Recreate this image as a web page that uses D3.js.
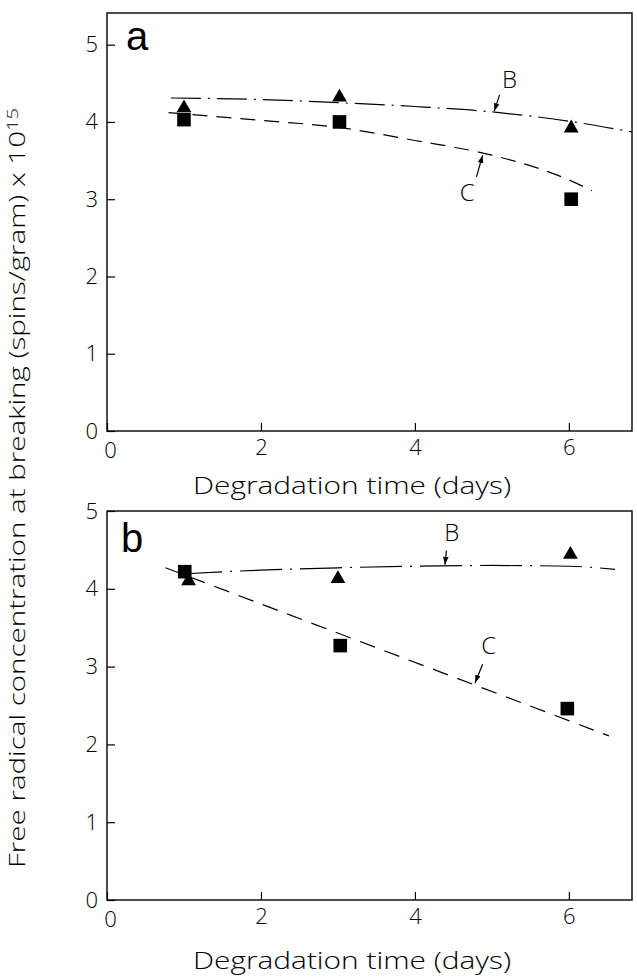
<!DOCTYPE html>
<html><head><meta charset="utf-8">
<script src="https://cdnjs.cloudflare.com/ajax/libs/d3/7.8.5/d3.min.js"></script>
<style>
body{margin:0;background:#fff;}
text{font-family:"Open Sans","DejaVu Sans",sans-serif;font-weight:300;fill:#000;}
</style>
</head><body>
<svg id="c" width="637" height="978"></svg>
<script>
// ---------- data ----------
const xTicks = [0, 2, 4, 6];
const yTicks = [0, 1, 2, 3, 4, 5];
const xTitle = "Degradation time (days)";
const yTitleMain = "Free radical concentration at breaking (spins/gram) x 10";
const yTitleSup = "15";

// panel a
const aTriX = [1, 3.02, 6.03];
const aTriY = [4.18, 4.32, 3.92];
const aSqX = [1, 3.02, 6.03];
const aSqY = [4.03, 4.0, 3.0];
const aCurveBX = [0.83, 2, 3, 4, 5, 6, 6.82];
const aCurveBY = [4.31, 4.29, 4.25, 4.2, 4.13, 4.01, 3.87];
const aCurveCX = [0.8, 2, 3, 4, 5, 6, 6.3];
const aCurveCY = [4.12, 4.02, 3.93, 3.76, 3.57, 3.25, 3.11];
// annotations: [labelX, labelY, tailX, tailY, tipX, tipY]
const aLabelB = [5.23, 4.55, 5.1, 4.35, 5.03, 4.14];
const aLabelC = [4.68, 3.09, 4.8, 3.29, 4.88, 3.57];

// panel b
const bTriX = [1.06, 3.0, 6.02];
const bTriY = [4.1, 4.13, 4.44];
const bSqX = [1.01, 3.03, 5.98];
const bSqY = [4.22, 3.27, 2.46];
const bCurveBX = [0.95, 2, 3, 4, 5, 6, 6.6];
const bCurveBY = [4.19, 4.24, 4.27, 4.29, 4.3, 4.29, 4.25];
const bCurveCX = [0.76, 6.52];
const bCurveCY = [4.27, 2.11];
const bLabelB = [4.48, 4.72, 4.41, 4.49, 4.39, 4.31];
const bLabelC = [4.96, 3.27, 4.88, 3.03, 4.78, 2.79];

// ---------- drawing ----------
const svg = d3.select("#c");
svg.append("defs").append("marker")
  .attr("id","ah").attr("viewBox","0 0 10 10").attr("refX",10).attr("refY",5)
  .attr("markerWidth",8).attr("markerHeight",8).attr("markerUnits","userSpaceOnUse")
  .attr("orient","auto")
  .append("path").attr("d","M0,1.5 L10,5 L0,8.5 Z").attr("fill","#000");

const x = d3.scaleLinear().domain([0, 6.82]).range([107, 632]);

function panel(cfg){
  const y = d3.scaleLinear().domain([0, cfg.ymax]).range([cfg.bottom, cfg.top]);
  const g = svg.append("g");
  g.append("rect").attr("x", x(0)).attr("y", cfg.top)
    .attr("width", x.range()[1]-x(0)).attr("height", cfg.bottom-cfg.top)
    .attr("fill","none").attr("stroke","#000").attr("stroke-width",1.4);
  const ax = g.append("g").attr("transform",`translate(0,${cfg.bottom})`)
    .call(d3.axisBottom(x).tickValues(xTicks).tickSize(-8).tickSizeOuter(0).tickPadding(8).tickFormat(d3.format("d")));
  const ay = g.append("g").attr("transform",`translate(${x(0)},0)`)
    .call(d3.axisLeft(y).tickValues(yTicks).tickSize(-8).tickSizeOuter(0).tickPadding(9).tickFormat(d3.format("d")));
  [ax, ay].forEach(a => {
    a.select(".domain").remove();
    a.selectAll("line").attr("stroke","#000").attr("stroke-width",1.2);
    a.selectAll("text").attr("font-size",22).attr("font-family",null).attr("fill","#000");
  });
  ax.selectAll(".tick").filter(d=>d===0).select("text").attr("dx", 3).attr("dy","0.85em");
  const line = d3.line().x(d=>x(d[0])).y(d=>y(d[1])).curve(d3.curveMonotoneX);
  g.append("path").datum(d3.zip(cfg.cBX, cfg.cBY)).attr("d", line)
    .attr("fill","none").attr("stroke","#000").attr("stroke-width",1.2)
    .attr("stroke-dasharray", cfg.dashB);
  g.append("path").datum(d3.zip(cfg.cCX, cfg.cCY)).attr("d", line)
    .attr("fill","none").attr("stroke","#000").attr("stroke-width",1.2)
    .attr("stroke-dasharray", cfg.dashC);
  const sq = d3.symbol().type(d3.symbolSquare).size(185);
  const tri = d3.symbol().type(d3.symbolTriangle).size(95);
  g.selectAll(".sq").data(d3.zip(cfg.sqX, cfg.sqY)).join("path")
    .attr("d", sq).attr("transform", d=>`translate(${x(d[0])},${y(d[1])})`).attr("fill","#000");
  g.selectAll(".tri").data(d3.zip(cfg.triX, cfg.triY)).join("path")
    .attr("d", tri).attr("transform", d=>`translate(${x(d[0])},${y(d[1])})`).attr("fill","#000");
  [["B", cfg.labB], ["C", cfg.labC]].forEach(([t, a]) => {
    g.append("text").attr("x", x(a[0])).attr("y", y(a[1])).attr("dy","0.36em")
      .attr("text-anchor","middle").attr("font-size",24).text(t);
    g.append("line").attr("x1", x(a[2])).attr("y1", y(a[3])).attr("x2", x(a[4])).attr("y2", y(a[5]))
      .attr("stroke","#000").attr("stroke-width",1.2).attr("marker-end","url(#ah)");
  });
  g.append("text").attr("x", cfg.letX).attr("y", cfg.letY)
    .style("font-family","'Liberation Sans Narrow','Liberation Sans',Arial,sans-serif")
    .style("font-weight","normal")
    .attr("font-size",40).text(cfg.letter);
  g.append("text").attr("x", 352).attr("y", cfg.titleY).attr("text-anchor","middle")
    .attr("font-size",23).attr("textLength",318).attr("lengthAdjust","spacingAndGlyphs").text(xTitle);
}

panel({top:13, bottom:431, ymax:5.41, letter:"a", letX:126, letY:50, titleY:494,
  triX:aTriX, triY:aTriY, sqX:aSqX, sqY:aSqY, cBX:aCurveBX, cBY:aCurveBY, cCX:aCurveCX, cCY:aCurveCY,
  labB:aLabelB, labC:aLabelC, dashB:"30,7,2,7", dashC:"15,9"});
panel({top:511, bottom:900, ymax:5.0, letter:"b", letX:121, letY:552, titleY:969,
  triX:bTriX, triY:bTriY, sqX:bSqX, sqY:bSqY, cBX:bCurveBX, cBY:bCurveBY, cCX:bCurveCX, cCY:bCurveCY,
  labB:bLabelB, labC:bLabelC, dashB:"42,8,2,8", dashC:"16,10"});

const yt = svg.append("text").attr("transform","translate(25,488) rotate(-90)")
  .attr("text-anchor","middle").attr("font-size",22)
  .attr("textLength",760).attr("lengthAdjust","spacingAndGlyphs");
yt.append("tspan").text(yTitleMain);
yt.append("tspan").attr("dy","-0.45em").attr("font-size",15).text(yTitleSup);
</script>
</body></html>
